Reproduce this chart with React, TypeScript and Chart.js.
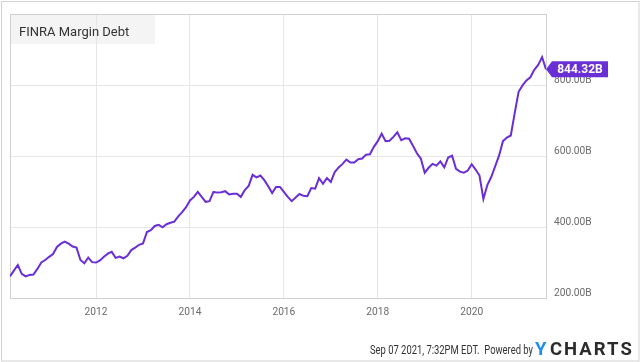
import React, { useEffect, useRef } from "react";
import { Chart, registerables } from "chart.js";

Chart.register(...registerables);

// Monthly FINRA margin debt (billions USD), month-end points from Feb 2010 to Jul 2021
const START_YEAR = 2010;
const START_MONTH = 2;
const marginDebt = [
  261, 277, 293, 268, 261, 265, 266, 282, 300, 307, 316, 324,
  344, 353, 359, 353, 345, 342, 307, 298, 314, 301, 300, 306,
  316, 325, 330, 313, 317, 312, 319, 335, 342, 350, 354, 386,
  391, 403, 406, 399, 408, 412, 415, 430, 442, 456, 475, 485,
  499, 485, 471, 473, 499, 497, 498, 501, 492, 494, 494, 485,
  504, 516, 547, 540, 545, 532, 515, 496, 513, 513, 499, 485,
  473, 483, 493, 488, 487, 510, 508, 538, 522, 538, 527, 555,
  568, 578, 590, 582, 582, 591, 593, 604, 605, 626, 642, 663,
  642, 643, 654, 667, 645, 650, 649, 629, 608, 593, 553, 567,
  578, 573, 585, 568, 596, 601, 564, 556, 553, 559, 577, 562,
  545, 479, 518, 541, 571, 601, 642, 652, 658, 721, 781, 799,
  813, 822, 843, 857, 879, 844.32,
];
const yTickValues = [200, 400, 600, 800];
const xTickYears = [2012, 2014, 2016, 2018, 2020];
const seriesTitle = "FINRA Margin Debt";
const lastValueLabel = "844.32B";
const footerText = "Sep 07 2021, 7:32PM EDT.  Powered by";
const logoY = "Y";
const logoRest = "CHARTS";

const PURPLE = "#6a2ed6";
const FONT = "Roboto, 'Noto Sans', sans-serif";

export default function App() {
  const canvasRef = useRef<HTMLCanvasElement | null>(null);

  useEffect(() => {
    const canvas = canvasRef.current;
    if (!canvas) return;
    const points = marginDebt.map((v, i) => ({
      x: START_YEAR + (START_MONTH + i) / 12,
      y: v,
    }));
    const xMin = points[0].x;
    const xMax = points[points.length - 1].x;

    const decor = {
      id: "decor",
      beforeDraw(chart: any) {
        const { ctx, chartArea: a } = chart;
        ctx.save();
        ctx.fillStyle = "#ffffff";
        ctx.fillRect(0, 0, chart.width, chart.height);
        ctx.strokeStyle = "#d2d2d2";
        ctx.lineWidth = 1;
        ctx.strokeRect(1.5, 1.5, chart.width - 2.5, chart.height - 2.5);
        ctx.fillStyle = "#f4f4f4";
        ctx.fillRect(a.left, a.top, 145, 30);
        ctx.restore();
      },
      beforeDatasetsDraw(chart: any) {
        const { ctx, chartArea: a } = chart;
        ctx.save();
        ctx.strokeStyle = "#d0d0d0";
        ctx.lineWidth = 1;
        ctx.strokeRect(Math.round(a.left) + 0.5, Math.round(a.top) + 0.5,
          Math.round(a.right) - Math.round(a.left), Math.round(a.bottom) - Math.round(a.top));
        ctx.restore();
      },
      afterDraw(chart: any) {
        const { ctx, chartArea: a } = chart;
        ctx.save();
        // title
        ctx.fillStyle = "#333333";
        ctx.font = `13px ${FONT}`;
        ctx.textBaseline = "alphabetic";
        ctx.textAlign = "left";
        ctx.fillText(seriesTitle, a.left + 9, a.top + 21.5);

        // last value tag
        const last = marginDebt[marginDebt.length - 1];
        const yp = chart.scales.y.getPixelForValue(last);
        const x0 = a.right;
        ctx.fillStyle = PURPLE;
        ctx.beginPath();
        ctx.moveTo(x0, yp);
        ctx.lineTo(x0 + 6, yp - 8);
        ctx.lineTo(x0 + 62, yp - 8);
        ctx.lineTo(x0 + 62, yp + 8);
        ctx.lineTo(x0 + 6, yp + 8);
        ctx.closePath();
        ctx.fill();
        ctx.fillStyle = "#ffffff";
        ctx.font = `bold 12px ${FONT}`;
        ctx.textAlign = "center";
        ctx.textBaseline = "middle";
        ctx.fillText(lastValueLabel, x0 + 34, yp + 0.5);

        // footer
        ctx.fillStyle = "#333333";
        ctx.font = `12.5px ${FONT}`;
        ctx.textAlign = "left";
        ctx.textBaseline = "alphabetic";
        const w = ctx.measureText(footerText).width;
        const sx = 163 / w;
        ctx.save();
        ctx.translate(370, 353.5);
        ctx.scale(sx, 1);
        ctx.fillText(footerText, 0, 0);
        ctx.restore();

        // logo
        ctx.font = `bold 18.5px ${FONT}`;
        ctx.fillStyle = "#1f8ef1";
        ctx.fillText(logoY, 535, 355);
        ctx.fillStyle = "#2b2b2b";
        (ctx as any).letterSpacing = "2px";
        ctx.fillText(logoRest, 550, 355);
        ctx.restore();
      },
    };

    const chart = new Chart(canvas, {
      type: "line",
      data: {
        datasets: [
          {
            label: seriesTitle,
            data: points,
            borderColor: PURPLE,
            borderWidth: 2,
            pointRadius: 0,
            tension: 0,
            fill: false,
          },
        ],
      },
      options: {
        animation: false,
        responsive: false,
        events: [],
        layout: { padding: { left: 10, top: 10, right: 0, bottom: 0 } },
        plugins: {
          legend: { display: false },
          tooltip: { enabled: false },
        },
        scales: {
          x: {
            type: "linear",
            min: xMin,
            max: xMax,
            border: { display: false },
            grid: { color: "#e6e6e6", drawTicks: false },
            afterFit: (s: any) => { s.height = 64; },
            afterBuildTicks: (s: any) => {
              s.ticks = xTickYears.map((v) => ({ value: v }));
            },
            ticks: {
              autoSkip: false,
              maxRotation: 0,
              padding: 8,
              color: "#6b6b6b",
              font: { family: FONT, size: 10.2 },
              callback: (v: any) => String(v),
            },
          },
          y: {
            position: "right",
            min: 200,
            max: 1000,
            border: { display: false },
            grid: { color: "#e6e6e6", drawTicks: false },
            afterFit: (s: any) => { s.width = 94; },
            afterBuildTicks: (s: any) => {
              s.ticks = yTickValues.map((v) => ({ value: v }));
            },
            ticks: {
              padding: 8,
              labelOffset: -5,
              color: "#6b6b6b",
              font: { family: FONT, size: 10.2 },
              callback: (v: any) => Number(v).toFixed(2) + "B",
            },
          },
        },
      },
      plugins: [decor],
    });
    return () => chart.destroy();
  }, []);

  return (
    <div style={{ position: "fixed", left: 0, top: 0, width: 640, height: 362 }}>
      <canvas ref={canvasRef} width={640} height={362} style={{ display: "block" }} />
    </div>
  );
}
